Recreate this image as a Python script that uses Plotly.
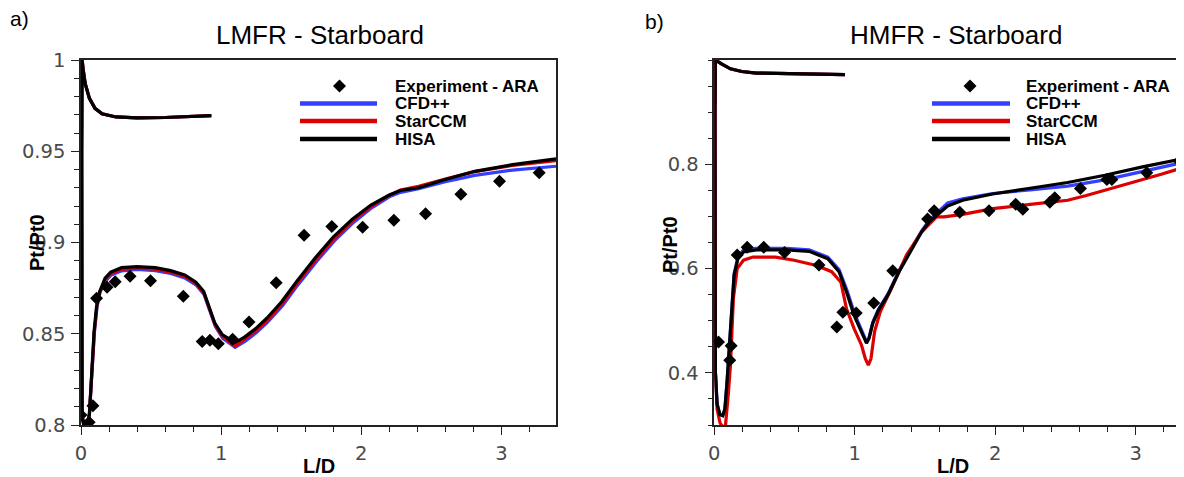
import plotly.graph_objects as go

# ---------------- data: panel a) LMFR - Starboard ----------------
a_exp_x = [0.0, 0.058, 0.085, 0.111, 0.186, 0.244, 0.35, 0.496, 0.73, 0.865, 0.92, 0.98,
           1.082, 1.199, 1.393, 1.592, 1.79, 2.01, 2.233, 2.459, 2.711, 2.987, 3.27]
a_exp_y = [0.8055, 0.8015, 0.8105, 0.8695, 0.8755, 0.8785, 0.8815, 0.879, 0.8705, 0.8458, 0.8465, 0.8445,
           0.847, 0.8565, 0.878, 0.904, 0.9088, 0.9083, 0.9122, 0.9158, 0.9265, 0.9336, 0.9382]

a_hisa_x = [0.93, 0.80, 0.60, 0.40, 0.25, 0.15, 0.10, 0.06, 0.03, 0.015, 0.008,
            0.005, 0.005, 0.008, 0.02, 0.045, 0.06, 0.075, 0.093, 0.111, 0.133, 0.172, 0.212,
            0.29, 0.40, 0.53, 0.64, 0.74, 0.82, 0.875, 0.915, 0.955, 1.008, 1.06, 1.10, 1.167,
            1.247, 1.326, 1.432, 1.538, 1.671, 1.80, 1.936, 2.069, 2.20, 2.28, 2.41, 2.60, 2.81,
            3.08, 3.39]
a_hisa_y = [0.9695, 0.9690, 0.9685, 0.9683, 0.9688, 0.9705, 0.9735, 0.979, 0.987, 0.995, 1.0,
            0.95, 0.85, 0.805, 0.800, 0.800, 0.806, 0.83, 0.851, 0.865, 0.873, 0.8805, 0.8838,
            0.8862, 0.8868, 0.8862, 0.8846, 0.8822, 0.8783, 0.8733, 0.8643, 0.8558, 0.8495, 0.8468, 0.8452, 0.8482,
            0.8528, 0.8585, 0.8675, 0.8785, 0.8915, 0.903, 0.9128, 0.9205, 0.926, 0.9285, 0.930, 0.9345, 0.9390,
            0.9427, 0.9458]

a_cfd_x = [0.93, 0.80, 0.60, 0.40, 0.25, 0.15, 0.10, 0.06, 0.03, 0.015, 0.008,
           0.005, 0.005, 0.008, 0.02, 0.045, 0.06, 0.078, 0.096, 0.115, 0.137, 0.176, 0.216,
           0.29, 0.40, 0.53, 0.64, 0.74, 0.82, 0.878, 0.92, 0.96, 1.012, 1.065, 1.10, 1.17,
           1.25, 1.33, 1.44, 1.545, 1.68, 1.81, 1.945, 2.075, 2.20, 2.28, 2.41, 2.60, 2.81,
           3.08, 3.39]
a_cfd_y = [0.9695, 0.9690, 0.9685, 0.9683, 0.9688, 0.9705, 0.9735, 0.979, 0.987, 0.995, 1.0,
           0.95, 0.85, 0.805, 0.800, 0.800, 0.806, 0.83, 0.851, 0.865, 0.873, 0.879, 0.8822,
           0.8845, 0.8852, 0.8846, 0.883, 0.8806, 0.8768, 0.8715, 0.8625, 0.8538, 0.8475, 0.8442, 0.8425, 0.8458,
           0.8505, 0.8562, 0.8655, 0.8765, 0.8895, 0.901, 0.911, 0.919, 0.925, 0.9275, 0.9295, 0.9333, 0.9368,
           0.9397, 0.9418]

a_star_x = [0.93, 0.80, 0.60, 0.40, 0.25, 0.15, 0.10, 0.06, 0.03, 0.015, 0.008,
            0.005, 0.005, 0.008, 0.02, 0.045, 0.06, 0.077, 0.095, 0.113, 0.135, 0.174, 0.214,
            0.29, 0.40, 0.53, 0.64, 0.74, 0.82, 0.877, 0.918, 0.958, 1.01, 1.062, 1.10, 1.168,
            1.248, 1.328, 1.436, 1.542, 1.676, 1.805, 1.94, 2.072, 2.20, 2.28, 2.41, 2.60, 2.81,
            3.08, 3.39]
a_star_y = [0.9695, 0.9690, 0.9685, 0.9683, 0.9688, 0.9705, 0.9735, 0.979, 0.987, 0.995, 1.0,
            0.95, 0.85, 0.805, 0.800, 0.800, 0.806, 0.83, 0.851, 0.865, 0.873, 0.8798, 0.883,
            0.8853, 0.886, 0.8854, 0.8838, 0.8814, 0.8776, 0.8724, 0.8634, 0.8548, 0.8485, 0.8455, 0.8432, 0.847,
            0.8516, 0.8572, 0.8665, 0.8775, 0.8905, 0.902, 0.912, 0.9198, 0.9258, 0.9288, 0.9308, 0.9348, 0.9388,
            0.9422, 0.9448]

# ---------------- data: panel b) HMFR - Starboard ----------------
b_exp_x = [0.03, 0.11, 0.12, 0.163, 0.234, 0.352, 0.50, 0.745, 0.872, 0.915, 1.01, 1.135, 1.27,
           1.518, 1.565, 1.747, 1.955, 2.145, 2.196, 2.388, 2.423, 2.606, 2.794, 2.83, 3.078, 3.31]
b_exp_y = [0.459, 0.424, 0.452, 0.626, 0.641, 0.641, 0.631, 0.607, 0.488, 0.516, 0.515, 0.534, 0.596,
           0.695, 0.711, 0.708, 0.711, 0.7235, 0.714, 0.727, 0.736, 0.7535, 0.771, 0.771, 0.784, 0.806]

b_hisa_x = [0.93, 0.80, 0.675, 0.515, 0.30, 0.195, 0.115, 0.048, 0.008,
            0.005, 0.005, 0.008, 0.02, 0.04, 0.06, 0.075, 0.09, 0.10, 0.12, 0.141, 0.168, 0.208,
            0.30, 0.515, 0.675, 0.808, 0.888, 0.941, 0.995, 1.048, 1.083, 1.101, 1.128, 1.168,
            1.235, 1.315, 1.395, 1.475, 1.528, 1.595, 1.661, 1.768, 1.981, 2.248, 2.515, 2.78,
            3.048, 3.343]
b_hisa_y = [0.972, 0.9725, 0.9725, 0.974, 0.975, 0.978, 0.983, 0.993, 1.0,
            0.9, 0.6, 0.4, 0.34, 0.32, 0.318, 0.33, 0.38, 0.42, 0.51, 0.587, 0.619, 0.632,
            0.636, 0.636, 0.633, 0.619, 0.594, 0.555, 0.51, 0.479, 0.457, 0.466, 0.495, 0.52,
            0.549, 0.594, 0.632, 0.67, 0.689, 0.705, 0.72, 0.731, 0.743, 0.754, 0.765, 0.779,
            0.795, 0.811]

b_cfd_x = [0.93, 0.80, 0.675, 0.515, 0.30, 0.195, 0.115, 0.048, 0.008,
           0.005, 0.005, 0.008, 0.02, 0.04, 0.06, 0.075, 0.09, 0.10, 0.12, 0.141, 0.168, 0.208,
           0.30, 0.515, 0.675, 0.808, 0.888, 0.945, 1.0, 1.05, 1.083, 1.101, 1.128, 1.168,
           1.235, 1.315, 1.395, 1.475, 1.528, 1.595, 1.661, 1.768, 1.981, 2.248, 2.515, 2.78,
           3.048, 3.343]
b_cfd_y = [0.972, 0.9725, 0.9725, 0.974, 0.975, 0.978, 0.983, 0.993, 1.0,
           0.9, 0.6, 0.4, 0.34, 0.32, 0.318, 0.33, 0.38, 0.42, 0.51, 0.59, 0.622, 0.636,
           0.639, 0.639, 0.636, 0.622, 0.598, 0.558, 0.512, 0.48, 0.46, 0.467, 0.497, 0.522,
           0.551, 0.596, 0.634, 0.672, 0.692, 0.71, 0.726, 0.734, 0.744, 0.751, 0.758, 0.77,
           0.786, 0.804]

b_star_x = [0.93, 0.80, 0.675, 0.515, 0.30, 0.195, 0.115, 0.048, 0.008,
            0.005, 0.005, 0.008, 0.02, 0.04, 0.06, 0.08, 0.10, 0.115, 0.136, 0.163, 0.208,
            0.275, 0.435, 0.568, 0.728, 0.835, 0.901, 0.941, 0.995, 1.048, 1.075, 1.096, 1.115,
            1.141, 1.181, 1.261, 1.368, 1.475, 1.581, 1.635, 1.768, 1.981, 2.248, 2.515, 2.648,
            2.915, 3.181, 3.343]
b_star_y = [0.972, 0.9725, 0.9725, 0.974, 0.975, 0.978, 0.983, 0.993, 1.0,
            0.9, 0.6, 0.4, 0.33, 0.305, 0.295, 0.30, 0.36, 0.415, 0.543, 0.60, 0.616,
            0.622, 0.622, 0.616, 0.606, 0.594, 0.574, 0.523, 0.485, 0.453, 0.427, 0.415, 0.427,
            0.479, 0.517, 0.562, 0.626, 0.67, 0.699, 0.699, 0.704, 0.715, 0.723, 0.731, 0.740,
            0.760, 0.781, 0.794]

legend_names = ["Experiment - ARA", "CFD++", "StarCCM", "HISA"]
titles = ["LMFR - Starboard", "HMFR - Starboard"]
panel_tags = ["a)", "b)"]
a_yticks = [0.8, 0.85, 0.9, 0.95, 1.0]
a_yticktext = ["0.8", "0.85", "0.9", "0.95", "1"]
b_yticks = [0.4, 0.6, 0.8]
b_yticktext = ["0.4", "0.6", "0.8"]
xticks = [0, 1, 2, 3]

BLUE = "#3340ff"
RED = "#dd0000"
BLACK = "#000000"

# ---------------- geometry (the page body has an 8px margin) ----------------
OFF = 8
WIN_W, WIN_H = 1184, 477
W, H = WIN_W - OFF, WIN_H - OFF
PLOT_LEFT, PLOT_TOP, PLOT_BOTTOM = 81, 60, 425          # target window pixels
ML, MT, MB, MR = PLOT_LEFT - OFF, PLOT_TOP - OFF, WIN_H - PLOT_BOTTOM, 0
PW, PH = W - ML - MR, H - MT - MB


def px(x):
    return (x - OFF - ML) / PW


def py(y):
    return (PLOT_BOTTOM - y) / PH


fig = go.Figure()

line_w = 3.2
for xs, ys, col, xa, ya in [
    (a_cfd_x, a_cfd_y, BLUE, "x", "y"),
    (a_star_x, a_star_y, RED, "x", "y"),
    (a_hisa_x, a_hisa_y, BLACK, "x", "y"),
    (b_cfd_x, b_cfd_y, BLUE, "x2", "y2"),
    (b_star_x, b_star_y, RED, "x2", "y2"),
    (b_hisa_x, b_hisa_y, BLACK, "x2", "y2"),
]:
    fig.add_trace(go.Scatter(x=xs, y=ys, mode="lines", line=dict(color=col, width=line_w),
                             xaxis=xa, yaxis=ya, showlegend=False, cliponaxis=True))

for xs, ys, xa, ya in [(a_exp_x, a_exp_y, "x", "y"), (b_exp_x, b_exp_y, "x2", "y2")]:
    fig.add_trace(go.Scatter(x=xs, y=ys, mode="markers",
                             marker=dict(symbol="diamond", size=10, color=BLACK),
                             xaxis=xa, yaxis=ya, showlegend=False, cliponaxis=True))

tickfont = dict(family="DejaVu Sans", size=19.5, color="#4a4a4a")
axis_common = dict(showline=True, linecolor="#222222", linewidth=1.5, mirror=True,
                   showgrid=False, zeroline=False, ticks="outside", ticklen=8, tickwidth=1.3,
                   tickcolor="#222222", tickfont=tickfont, ticklabelstandoff=2)

fig.update_layout(
    width=W, height=H, margin=dict(l=ML, r=MR, t=MT, b=MB),
    paper_bgcolor="white", plot_bgcolor="white", showlegend=False,
    xaxis=dict(domain=[0, px(556)], range=[0, 3.39], tickvals=xticks,
               minor=dict(dtick=0.2, tick0=0, ticklen=5, ticks="outside", tickcolor="#222222"),
               anchor="y", **axis_common),
    yaxis=dict(domain=[0, 1], range=[0.8, 1.0], tickvals=a_yticks, ticktext=a_yticktext,
               minor=dict(dtick=0.01, tick0=0, ticklen=5, ticks="outside", tickcolor="#222222"),
               anchor="x", **axis_common),
    xaxis2=dict(domain=[px(714.3), 1], range=[0, (WIN_W - 714.3) / 140.5], tickvals=xticks,
                minor=dict(dtick=0.2, tick0=0, ticklen=5, ticks="outside", tickcolor="#222222"),
                anchor="y2", **axis_common),
    yaxis2=dict(domain=[0, 1], range=[0.3, 1.0], tickvals=b_yticks, ticktext=b_yticktext,
                minor=dict(dtick=0.05, tick0=0, ticklen=5, ticks="outside", tickcolor="#222222"),
                anchor="x2", **{**axis_common, "mirror": False}),
)

annotations = []
shapes = []


def text(x, y, s, size, bold=False, angle=0, xanchor="center", family="Liberation Sans"):
    annotations.append(dict(x=px(x), y=py(y), xref="paper", yref="paper", text=("<b>%s</b>" % s) if bold else s,
                            showarrow=False, xanchor=xanchor, yanchor="middle", textangle=angle,
                            font=dict(family=family, size=size, color="black")))


# titles and panel tags
text(320, 35, titles[0], 26)
text(956, 35, titles[1], 26)
text(19, 19, panel_tags[0], 21)
text(654, 21, panel_tags[1], 21)
# axis titles
text(319, 466, "L/D", 20, bold=True)
text(953, 466, "L/D", 20, bold=True)
text(37, 243, "Pt/Pt0", 20, bold=True, angle=-90)
text(670, 245, "Pt/Pt0", 20, bold=True, angle=-90)

# manual legends
for (mx, lx0, lx1, tx) in [(339.5, 300, 377, 393), (970, 932, 1010, 1024)]:
    ys = [86, 103.5, 121, 139]
    shapes.append(dict(type="path", xref="paper", yref="paper", xsizemode="pixel", ysizemode="pixel",
                       xanchor=px(mx), yanchor=py(ys[0]), path="M -6.5 0 L 0 6.5 L 6.5 0 L 0 -6.5 Z",
                       fillcolor=BLACK, line=dict(width=0)))
    for yy, col in zip(ys[1:], [BLUE, RED, BLACK]):
        shapes.append(dict(type="line", xref="paper", yref="paper", x0=px(lx0), x1=px(lx1),
                           y0=py(yy), y1=py(yy), line=dict(color=col, width=4.5)))
    for yy, name in zip(ys, legend_names):
        text(tx, yy, name, 17, bold=True, xanchor="left")

fig.update_layout(annotations=annotations, shapes=shapes)
fig.write_html("out.html")
